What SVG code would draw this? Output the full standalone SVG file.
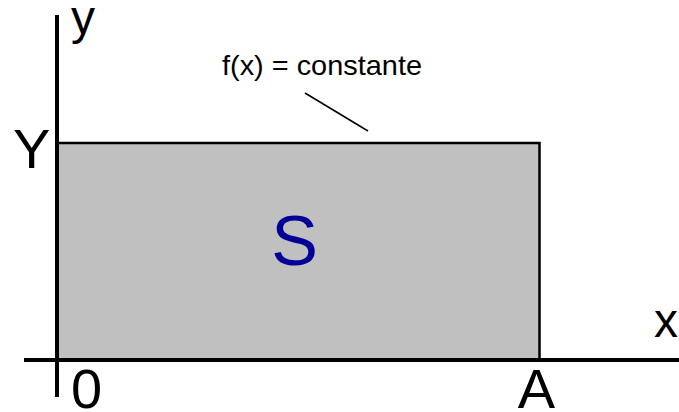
<svg xmlns="http://www.w3.org/2000/svg" width="679" height="412" viewBox="0 0 679 412">
<style>
  .lbl { font-family: "Liberation Sans", Arial, sans-serif; fill: #000; }
  .ax { stroke: #000; stroke-width: 4; fill: none; }
</style>
<rect width="679" height="412" fill="#fff"/>
<g id="area">
  <rect x="57" y="143" width="482.5" height="217" fill="#c0c0c0" stroke="#000" stroke-width="2.5"/>
  <text class="lbl" x="294.5" y="265" font-size="70" text-anchor="middle" style="fill:#000099">S</text>
</g>
<g id="axes">
  <line class="ax" x1="57" y1="15" x2="57" y2="397"/>
  <line class="ax" x1="24" y1="360" x2="679" y2="360"/>
</g>
<g id="connectors">
  <line x1="305" y1="93" x2="368" y2="131" stroke="#000" stroke-width="1.5"/>
</g>
<g id="labels">
  <text class="lbl" x="71" y="34" font-size="48">y</text>
  <text class="lbl" x="13" y="168" font-size="56">Y</text>
  <text class="lbl" x="71" y="408" font-size="56">0</text>
  <text class="lbl" x="536.5" y="408" font-size="56" text-anchor="middle">A</text>
  <text class="lbl" x="666" y="337" font-size="48" text-anchor="middle">x</text>
  <text class="lbl" x="222" y="75" font-size="28" textLength="200" lengthAdjust="spacingAndGlyphs">f(x) = constante</text>
</g>
</svg>
